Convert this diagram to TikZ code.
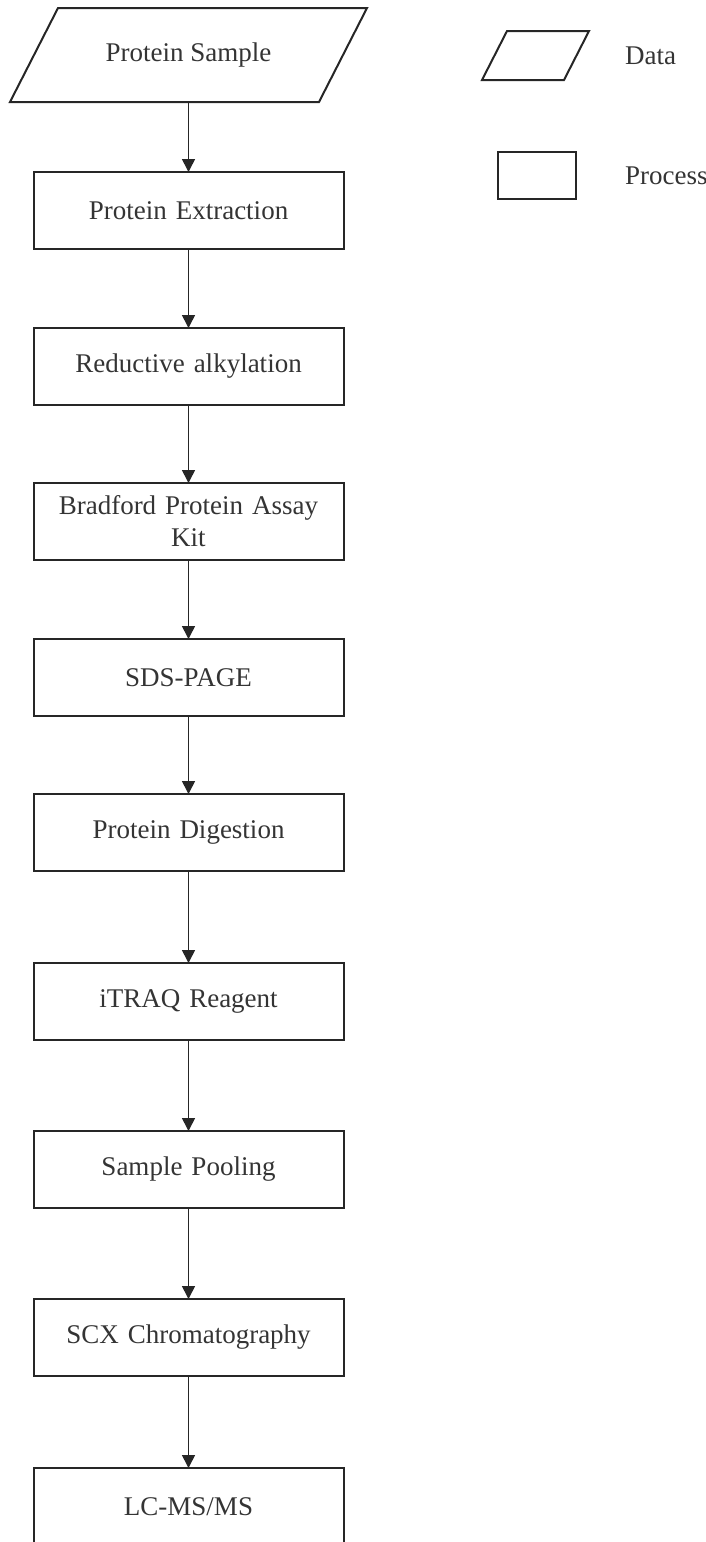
\documentclass[tikz,border=0pt]{standalone}
\usepackage{fontspec}
\setmainfont{Liberation Serif}
\usetikzlibrary{arrows.meta,positioning}
\definecolor{ink}{RGB}{52,52,52}
\definecolor{edge}{RGB}{38,38,38}

\begin{document}
\begin{tikzpicture}[x=1pt,y=-1pt,
    font=\fontsize{27}{32}\selectfont,
    process/.style={draw=edge,line width=2pt,text=ink,outer sep=0pt,
      minimum width=310pt,minimum height=77pt,
      text width=300pt,align=center,inner sep=0pt},
    data/.style={text=ink,outer sep=0pt,inner sep=0pt},
    slant/.style={draw=edge,line width=2pt,line join=miter},
    keytext/.style={anchor=west,text=ink,inner sep=0pt},
    flow/.style={draw=edge,line width=1.6pt,-{Triangle[length=13pt,width=13pt]}}]
  \useasboundingbox (0,0) rectangle (705,1542);
  % main flow
  \node[data,minimum width=357pt,minimum height=94pt] (sample) at (188.5,55) {Protein Sample};
  \draw[slant] ([xshift=48pt]sample.north west) -- (sample.north east)
    -- ([xshift=-48pt]sample.south east) -- (sample.south west) -- cycle;
  \node[process,below=70pt of sample] (extract) {Protein Extraction};
  \node[process,below=79pt of extract] (alkyl) {Reductive alkylation};
  \node[process,below=78pt of alkyl] (assay) {Bradford Protein Assay\\Kit};
  \node[process,below=79pt of assay] (sds) {SDS-PAGE};
  \node[process,below=78pt of sds] (digest) {Protein Digestion};
  \node[process,below=92pt of digest] (itraq) {iTRAQ Reagent};
  \node[process,below=91pt of itraq] (pool) {Sample Pooling};
  \node[process,below=91pt of pool] (scx) {SCX Chromatography};
  \node[process,below=92pt of scx] (lcms) {LC-MS/MS};
  \foreach \a/\b in {sample/extract,extract/alkyl,alkyl/assay,assay/sds,
      sds/digest,digest/itraq,itraq/pool,pool/scx,scx/lcms}
    \draw[flow] (\a.south) -- (\b.north);
  % legend
  \node[data,minimum width=107pt,minimum height=49pt] (datakey) at (535.5,55.5) {};
  \draw[slant] ([xshift=25pt]datakey.north west) -- (datakey.north east)
    -- ([xshift=-25pt]datakey.south east) -- (datakey.south west) -- cycle;
  \node[keytext] (datalabel) at (625,56) {Data};
  \node[draw=edge,line width=2pt,minimum width=78pt,minimum height=47pt] (processkey) at (537,175.5) {};
  \node[keytext] (processlabel) at (625,176) {Process};
\end{tikzpicture}
\end{document}
